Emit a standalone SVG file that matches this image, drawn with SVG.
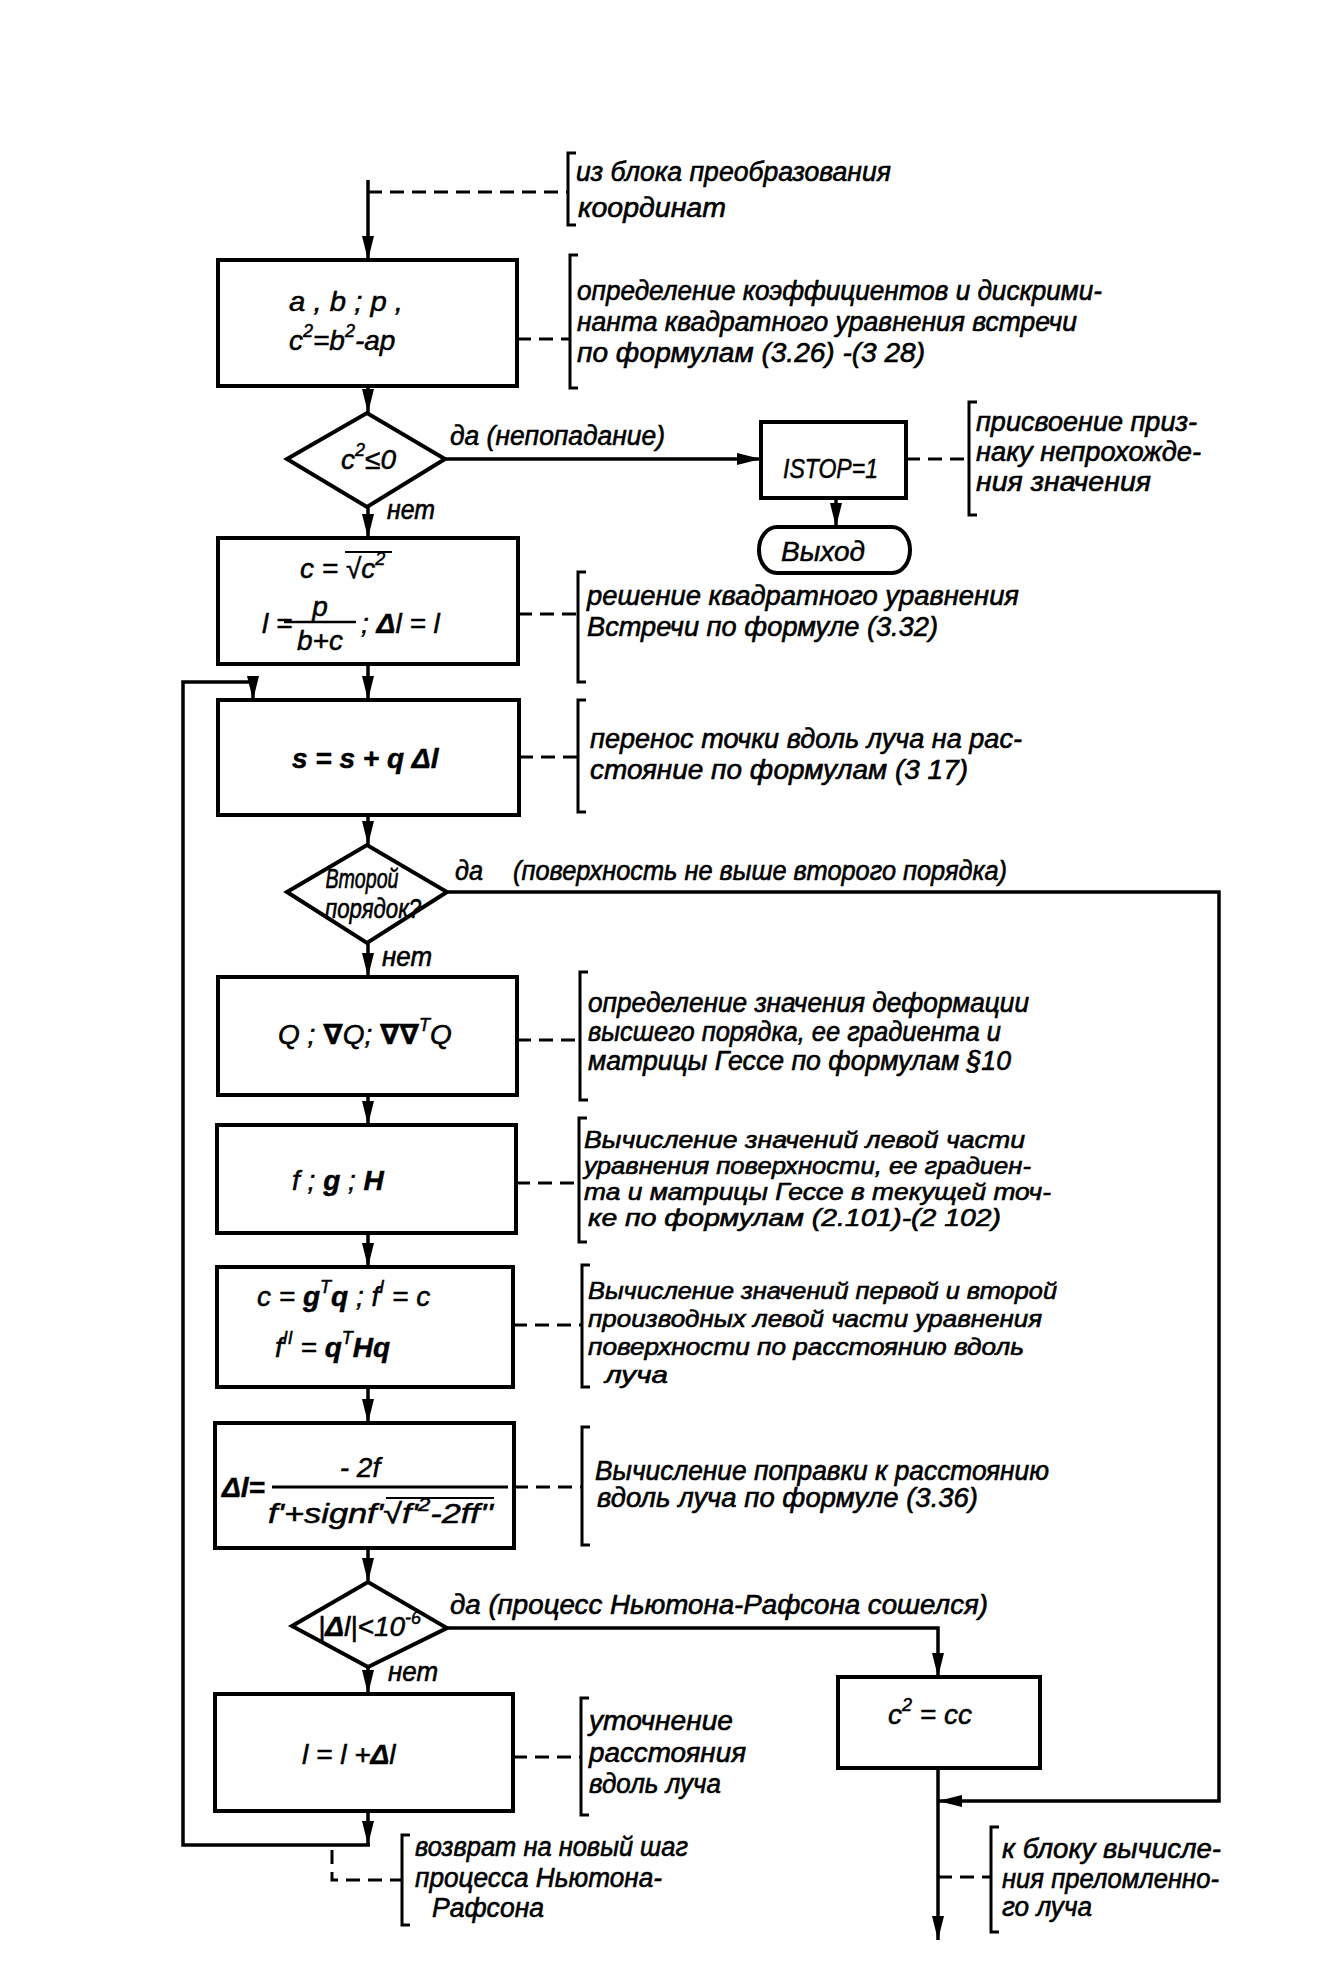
<svg xmlns="http://www.w3.org/2000/svg" width="1344" height="1962" viewBox="0 0 1344 1962">
<style>
.box{fill:#fff;stroke:#000;stroke-width:4}
.ln{fill:none;stroke:#000;stroke-width:3.5}
.dash{fill:none;stroke:#000;stroke-width:3;stroke-dasharray:14 8}
.br{fill:none;stroke:#000;stroke-width:3}
.t{font-family:"Liberation Sans","DejaVu Sans",sans-serif;font-style:italic;font-size:27px;fill:#000;stroke:#000;stroke-width:0.6}
.t4{font-size:24px}
.f{font-family:"Liberation Sans","DejaVu Sans",sans-serif;font-style:italic;font-size:28px;fill:#000;stroke:#000;stroke-width:0.5}
.b{font-weight:bold}
.sup{font-size:18px}
</style>
<defs>
<marker id="ah" markerUnits="userSpaceOnUse" markerWidth="24" markerHeight="12" refX="24" refY="6" orient="auto"><path d="M0,0 L24,6 L0,12 z" fill="#000"/></marker>
</defs>
<rect width="1344" height="1962" fill="#fff"/>

<g id="connectors">
<path class="ln" d="M368,180 V260" marker-end="url(#ah)"/>
<path class="ln" d="M368,386 V413" marker-end="url(#ah)"/>
<path class="ln" d="M445,459 H761" marker-end="url(#ah)"/>
<path class="ln" d="M836,498 V527" marker-end="url(#ah)"/>
<path class="ln" d="M368,507 V538" marker-end="url(#ah)"/>
<path class="ln" d="M368,664 V700" marker-end="url(#ah)"/>
<path class="ln" d="M368,1811 V1845" marker-end="url(#ah)"/>
<path class="ln" d="M370,1845 H183 V682 H253 V700" marker-end="url(#ah)"/>
<path class="ln" d="M368,815 V845" marker-end="url(#ah)"/>
<path class="ln" d="M447,892 H1219 V1801 H938" marker-end="url(#ah)"/>
<path class="ln" d="M368,943 V977" marker-end="url(#ah)"/>
<path class="ln" d="M368,1095 V1125" marker-end="url(#ah)"/>
<path class="ln" d="M368,1233 V1267" marker-end="url(#ah)"/>
<path class="ln" d="M368,1387 V1423" marker-end="url(#ah)"/>
<path class="ln" d="M368,1548 V1582" marker-end="url(#ah)"/>
<path class="ln" d="M447,1628 H938 V1677" marker-end="url(#ah)"/>
<path class="ln" d="M368,1667 V1694" marker-end="url(#ah)"/>
<path class="ln" d="M938,1768 V1940" marker-end="url(#ah)"/>

<path class="dash" d="M368,192 H568"/>
<path class="dash" d="M517,339 H570"/>
<path class="dash" d="M906,459 H969"/>
<path class="dash" d="M518,614 H578"/>
<path class="dash" d="M519,757 H578"/>
<path class="dash" d="M517,1040 H580"/>
<path class="dash" d="M516,1183 H579"/>
<path class="dash" d="M513,1325 H582"/>
<path class="dash" d="M514,1487 H582"/>
<path class="dash" d="M513,1757 H581"/>
<path class="dash" d="M332,1850 V1880 H402"/>
<path class="dash" d="M938,1877 H991"/>

<path class="br" d="M576,153 H568 V225 H576"/>
<path class="br" d="M578,255 H570 V388 H578"/>
<path class="br" d="M977,402 H969 V515 H977"/>
<path class="br" d="M586,572 H578 V682 H586"/>
<path class="br" d="M586,700 H578 V812 H586"/>
<path class="br" d="M588,972 H580 V1100 H588"/>
<path class="br" d="M587,1118 H579 V1242 H587"/>
<path class="br" d="M590,1265 H582 V1387 H590"/>
<path class="br" d="M590,1427 H582 V1545 H590"/>
<path class="br" d="M589,1698 H581 V1815 H589"/>
<path class="br" d="M410,1835 H402 V1925 H410"/>
<path class="br" d="M999,1827 H991 V1932 H999"/>

<text class="t" x="450" y="445" textLength="215" lengthAdjust="spacingAndGlyphs">да (непопадание)</text>
<text class="t" x="387" y="519" textLength="48" lengthAdjust="spacingAndGlyphs">нет</text>
<text class="t" x="455" y="880" textLength="28" lengthAdjust="spacingAndGlyphs">да</text>
<text class="t" x="513" y="880" textLength="494" lengthAdjust="spacingAndGlyphs">(поверхность не выше второго порядка)</text>
<text class="t" x="382" y="966" textLength="50" lengthAdjust="spacingAndGlyphs">нет</text>
<text class="t" x="450" y="1614" textLength="538" lengthAdjust="spacingAndGlyphs">да (процесс Ньютона-Рафсона сошелся)</text>
<text class="t" x="388" y="1681" textLength="50" lengthAdjust="spacingAndGlyphs">нет</text>
</g>

<g id="note-input">
<text class="t" x="576" y="181" textLength="315" lengthAdjust="spacingAndGlyphs">из блока преобразования</text>
<text class="t" x="578" y="217" textLength="148" lengthAdjust="spacingAndGlyphs">координат</text>
</g>

<g id="box1">
<rect class="box" x="218" y="260" width="299" height="126"/>
<text class="f" x="289" y="311" textLength="114" lengthAdjust="spacingAndGlyphs">a , b ; p ,</text>
<text class="f" x="289" y="350">c<tspan class="sup" dy="-13">2</tspan><tspan dy="13">=b</tspan><tspan class="sup" dy="-13">2</tspan><tspan dy="13">-ap</tspan></text>
<text class="t" x="577" y="300" textLength="525" lengthAdjust="spacingAndGlyphs">определение коэффициентов и дискрими-</text>
<text class="t" x="577" y="331" textLength="500" lengthAdjust="spacingAndGlyphs">нанта квадратного уравнения встречи</text>
<text class="t" x="577" y="362" textLength="348" lengthAdjust="spacingAndGlyphs">по формулам (3.26) -(3 28)</text>
</g>

<g id="decision1">
<polygon class="box" points="287,459 367,413 445,459 367,507"/>
<text class="f" x="341" y="469">c<tspan class="sup" dy="-13">2</tspan><tspan dy="13">≤0</tspan></text>
</g>

<g id="istop">
<rect class="box" x="761" y="422" width="145" height="76"/>
<text class="f" x="783" y="478" textLength="95" lengthAdjust="spacingAndGlyphs">ISTOP=1</text>
<text class="t" x="976" y="431" textLength="221" lengthAdjust="spacingAndGlyphs">присвоение приз-</text>
<text class="t" x="976" y="461" textLength="225" lengthAdjust="spacingAndGlyphs">наку непрохожде-</text>
<text class="t" x="976" y="491" textLength="175" lengthAdjust="spacingAndGlyphs">ния значения</text>
</g>

<g id="exit">
<rect class="box" x="759" y="527" width="151" height="46" rx="18" ry="23"/>
<text class="f" x="823" y="561" text-anchor="middle">Выход</text>
</g>

<g id="box2">
<rect class="box" x="218" y="538" width="300" height="126"/>
<text class="f" x="300" y="578">c = √c<tspan class="sup" dy="-13">2</tspan></text>
<path d="M345,552 H392" stroke="#000" stroke-width="2"/>
<text class="f" x="262" y="633">l =</text>
<text class="f" x="320" y="616" text-anchor="middle">p</text>
<path d="M284,622 H356" stroke="#000" stroke-width="2.5"/>
<text class="f" x="320" y="650" text-anchor="middle">b+c</text>
<text class="f" x="361" y="633">; <tspan class="b">Δ</tspan>l = l</text>
<text class="t" x="587" y="605" textLength="432" lengthAdjust="spacingAndGlyphs">решение квадратного уравнения</text>
<text class="t" x="587" y="636" textLength="351" lengthAdjust="spacingAndGlyphs">Встречи по формуле (3.32)</text>
</g>

<g id="box3">
<rect class="box" x="218" y="700" width="301" height="115"/>
<text class="f b" x="292" y="768" font-size="30">s = s + q Δl</text>
<text class="t" x="590" y="748" textLength="432" lengthAdjust="spacingAndGlyphs">перенос точки вдоль луча на рас-</text>
<text class="t" x="590" y="779" textLength="378" lengthAdjust="spacingAndGlyphs">стояние по формулам (3 17)</text>
</g>

<g id="decision2">
<polygon class="box" points="287,892 367,845 447,892 367,943"/>
<text class="t" x="362" y="888" text-anchor="middle" font-size="24" textLength="73" lengthAdjust="spacingAndGlyphs">Второй</text>
<text class="t" x="373" y="918" text-anchor="middle" font-size="24" textLength="96" lengthAdjust="spacingAndGlyphs">порядок?</text>
</g>

<g id="box4">
<rect class="box" x="218" y="977" width="299" height="118"/>
<text class="f" x="278" y="1044">Q ; <tspan class="b">∇</tspan>Q; <tspan class="b">∇∇</tspan><tspan class="sup" dy="-13">T</tspan><tspan dy="13">Q</tspan></text>
<text class="t" x="588" y="1012" textLength="441" lengthAdjust="spacingAndGlyphs">определение значения деформации</text>
<text class="t" x="588" y="1041" textLength="413" lengthAdjust="spacingAndGlyphs">высшего порядка, ее градиента и</text>
<text class="t" x="588" y="1070" textLength="423" lengthAdjust="spacingAndGlyphs">матрицы Гессе по формулам §10</text>
</g>

<g id="box5">
<rect class="box" x="217" y="1125" width="299" height="108"/>
<text class="f" x="292" y="1190">f ; <tspan class="b">g</tspan> ; <tspan class="b">H</tspan></text>
<text class="t t4" x="584" y="1148" textLength="441" lengthAdjust="spacingAndGlyphs">Вычисление значений левой части</text>
<text class="t t4" x="584" y="1174" textLength="447" lengthAdjust="spacingAndGlyphs">уравнения поверхности, ее градиен-</text>
<text class="t t4" x="584" y="1200" textLength="467" lengthAdjust="spacingAndGlyphs">та и матрицы Гессе в текущей точ-</text>
<text class="t t4" x="588" y="1226" textLength="413" lengthAdjust="spacingAndGlyphs">ке  по формулам (2.101)-(2 102)</text>
</g>

<g id="box6">
<rect class="box" x="217" y="1267" width="296" height="120"/>
<text class="f" x="257" y="1306">c = <tspan class="b">g</tspan><tspan class="sup" dy="-13">T</tspan><tspan class="b" dy="13">q</tspan> ; f<tspan class="sup" dy="-13">I</tspan><tspan dy="13"> = c</tspan></text>
<text class="f" x="275" y="1357">f<tspan class="sup" dy="-13">II</tspan><tspan dy="13"> = </tspan><tspan class="b">q</tspan><tspan class="sup" dy="-13">T</tspan><tspan class="b" dy="13">Hq</tspan></text>
<text class="t t4" x="588" y="1299" textLength="469" lengthAdjust="spacingAndGlyphs">Вычисление  значений первой и второй</text>
<text class="t t4" x="588" y="1327" textLength="454" lengthAdjust="spacingAndGlyphs">производных левой части уравнения</text>
<text class="t t4" x="588" y="1355" textLength="436" lengthAdjust="spacingAndGlyphs">поверхности по расстоянию вдоль</text>
<text class="t t4" x="605" y="1383" textLength="63" lengthAdjust="spacingAndGlyphs">луча</text>
</g>

<g id="box7">
<rect class="box" x="215" y="1423" width="299" height="125"/>
<text class="f b" x="222" y="1497">Δl=</text>
<text class="f" x="360" y="1477" text-anchor="middle">- 2f</text>
<path d="M272,1487 H508" stroke="#000" stroke-width="3"/>
<text class="f" x="268" y="1523" textLength="225" lengthAdjust="spacingAndGlyphs">f'+signf'√f'<tspan class="sup" dy="-12">2</tspan><tspan dy="12">-2ff''</tspan></text>
<path d="M386,1498 H494" stroke="#000" stroke-width="2"/>
<text class="t" x="595" y="1480" textLength="454" lengthAdjust="spacingAndGlyphs">Вычисление поправки к расстоянию</text>
<text class="t" x="597" y="1507" textLength="381" lengthAdjust="spacingAndGlyphs">вдоль луча по формуле (3.36)</text>
</g>

<g id="decision3">
<polygon class="box" points="292,1626 368,1582 447,1628 368,1667"/>
<text class="f" x="318" y="1636" font-size="24">|<tspan class="b">Δ</tspan>l|&lt;10<tspan class="sup" font-size="16" dy="-12">-6</tspan></text>
</g>

<g id="box8">
<rect class="box" x="215" y="1694" width="298" height="117"/>
<text class="f" x="302" y="1764">l = l +<tspan class="b">Δ</tspan>l</text>
<text class="t" x="589" y="1730" textLength="144" lengthAdjust="spacingAndGlyphs">уточнение</text>
<text class="t" x="589" y="1762" textLength="157" lengthAdjust="spacingAndGlyphs">расстояния</text>
<text class="t" x="589" y="1793" textLength="132" lengthAdjust="spacingAndGlyphs">вдоль луча</text>
</g>

<g id="note-return">
<text class="t" x="415" y="1856" textLength="273" lengthAdjust="spacingAndGlyphs">возврат на новый шаг</text>
<text class="t" x="415" y="1887" textLength="247" lengthAdjust="spacingAndGlyphs">процесса Ньютона-</text>
<text class="t" x="432" y="1917" textLength="112" lengthAdjust="spacingAndGlyphs">Рафсона</text>
</g>

<g id="box9">
<rect class="box" x="838" y="1677" width="202" height="91"/>
<text class="f" x="888" y="1724">c<tspan class="sup" dy="-13">2</tspan><tspan dy="13"> = cc</tspan></text>
</g>

<g id="note-output">
<text class="t" x="1002" y="1858" textLength="219" lengthAdjust="spacingAndGlyphs">к блоку вычисле-</text>
<text class="t" x="1002" y="1888" textLength="217" lengthAdjust="spacingAndGlyphs">ния преломленно-</text>
<text class="t" x="1002" y="1916" textLength="90" lengthAdjust="spacingAndGlyphs">го луча</text>
</g>
</svg>
